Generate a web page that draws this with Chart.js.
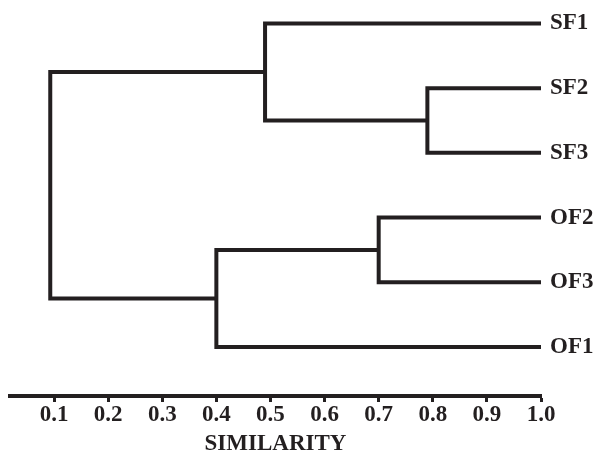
<!DOCTYPE html>
<html>
<head>
<meta charset="utf-8">
<script src="https://cdn.jsdelivr.net/npm/chart.js@4"></script>
<style>
  body { margin: 0; background: #fff; }
  #wrap { width: 598px; height: 457px; }
</style>
</head>
<body>
<div id="wrap"><canvas id="dendro"></canvas></div>
<script>
// leaves from top to bottom, all sitting at similarity 1.0
const leaves = ['SF1', 'SF2', 'SF3', 'OF2', 'OF3', 'OF1'];
const leafSimilarity = 1.0;

// merges: index < 6 is a leaf, index >= 6 is merge (index - 6)
const mergeA = [1, 3, 0, 7, 8];
const mergeB = [2, 4, 6, 5, 9];
const mergeSimilarity = [0.79, 0.70, 0.49, 0.40, 0.093];

const xTicks = [0.1, 0.2, 0.3, 0.4, 0.5, 0.6, 0.7, 0.8, 0.9, 1.0];

const ink = '#231f20';
const font = { family: '"Liberation Serif", "DejaVu Serif", serif', size: 23, weight: 'bold', lineHeight: 1.0 };

// node positions: x = similarity, y = leaf row (merges sit halfway between children)
const nodeX = leaves.map(() => leafSimilarity);
const nodeY = leaves.map((l, i) => i);
const datasets = [];
for (let m = 0; m < mergeSimilarity.length; m++) {
  const a = mergeA[m], b = mergeB[m], s = mergeSimilarity[m];
  datasets.push({
    data: [
      { x: nodeX[a], y: nodeY[a] },
      { x: s, y: nodeY[a] },
      { x: s, y: nodeY[b] },
      { x: nodeX[b], y: nodeY[b] }
    ],
    showLine: true,
    pointRadius: 0,
    borderWidth: 4,
    borderColor: ink,
    borderJoinStyle: 'miter',
    fill: false,
    clip: false
  });
  nodeX.push(s);
  nodeY.push((nodeY[a] + nodeY[b]) / 2);
}

new Chart(document.getElementById('dendro'), {
  type: 'scatter',
  data: { datasets: datasets },
  options: {
    responsive: true,
    maintainAspectRatio: false,
    animation: false,
    layout: { padding: { top: 0, left: 10, right: 0, bottom: 1 } },
    plugins: { legend: { display: false }, tooltip: { enabled: false } },
    scales: {
      x: {
        type: 'linear',
        min: 0.0186,
        max: 1.0,
        afterBuildTicks: (scale) => { scale.ticks = xTicks.map(v => ({ value: v })); },
        ticks: {
          color: ink,
          font: font,
          padding: 2,
          maxRotation: 0,
          autoSkip: false,
          callback: (v) => v.toFixed(1)
        },
        grid: { drawOnChartArea: false, drawTicks: true, tickLength: 6, tickWidth: 3, tickColor: ink },
        border: { display: true, color: ink, width: 4 },
        title: { display: true, text: 'SIMILARITY', color: ink, font: font, padding: { top: 4, bottom: 0 } }
      },
      y: {
        type: 'linear',
        position: 'right',
        reverse: true,
        min: -0.046,
        max: 5.758,
        afterBuildTicks: (scale) => { scale.ticks = leaves.map((l, i) => ({ value: i })); },
        afterFit: (scale) => { scale.width = 57; },
        ticks: {
          color: ink,
          font: font,
          padding: 9,
          autoSkip: false,
          callback: (v) => leaves[v]
        },
        grid: { display: false, drawTicks: false },
        border: { display: false }
      }
    }
  }
});
</script>
</body>
</html>
